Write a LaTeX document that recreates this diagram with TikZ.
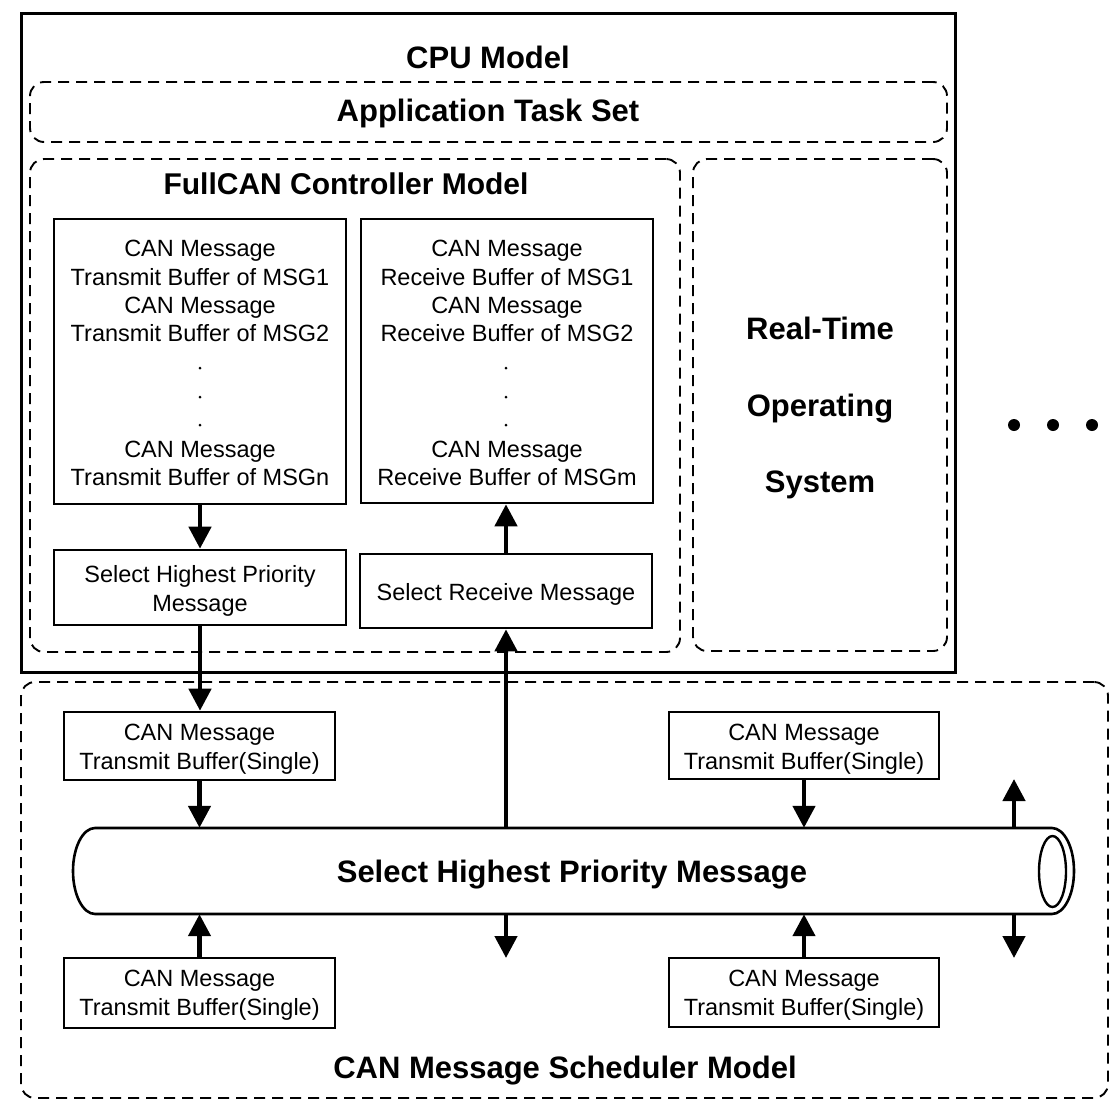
\documentclass[tikz,border=0pt]{standalone}
\usepackage{fontspec}
\setmainfont{Liberation Sans}
\usetikzlibrary{arrows.meta}
\begin{document}
\begin{tikzpicture}[x=1pt,y=-1pt,
  solidbox/.style={draw,line width=2.6pt,inner sep=0pt,minimum width=#1},
  thinbox/.style={draw,line width=2.4pt,inner sep=0pt},
  dashbox/.style={draw,line width=1.9pt,dash pattern=on 11pt off 7pt,rounded corners=14pt,inner sep=0pt},
  small/.style={anchor=base,inner sep=0pt,font=\fontsize{23.5}{28}\selectfont},
  big/.style={anchor=base,inner sep=0pt,font=\fontsize{31}{36}\selectfont\bfseries},
  arr/.style={line width=4.5pt,-{Triangle[length=22pt,width=22pt]}},
  dot/.style={fill,circle,inner sep=0pt,minimum size=#1}
]
\useasboundingbox (0,0) rectangle (1119,1101);

% containers
\node[solidbox=934pt,minimum height=659pt,line width=3pt] (cpu) at (488,342.5) {};
\node[dashbox,minimum width=917pt,minimum height=60pt] (app) at (488.5,112) {};
\node[dashbox,minimum width=650pt,minimum height=493pt] (fc) at (355,405.5) {};
\node[dashbox,minimum width=254pt,minimum height=492pt] (rtos) at (820,405) {};
\node[dashbox,minimum width=1087pt,minimum height=416pt] (sched) at (564.5,890) {};

% titles
\node[big] (t1) at (488,68) {CPU Model};
\node[big] (t2) at (488,121) {Application Task Set};
\node[big,font=\fontsize{30}{36}\selectfont\bfseries] (t3) at (346,194) {FullCAN Controller Model};
\node[big] (t4) at (820,339) {Real-Time};
\node[big] (t5) at (820,416) {Operating};
\node[big] (t6) at (820,492) {System};
\node[big] (t7) at (565,1078) {CAN Message Scheduler Model};

% buffers inside FullCAN
\node[solidbox=292pt,minimum height=285pt] (tb) at (200,361.5) {};
\node[solidbox=292pt,minimum height=284pt] (rb) at (507,361) {};
\node[small] (tb1) at (200,256) {CAN Message};
\node[small] (tb2) at (200,285) {Transmit Buffer of MSG1};
\node[small] (tb3) at (200,313) {CAN Message};
\node[small] (tb4) at (200,341) {Transmit Buffer of MSG2};
\node[small] (tb5) at (200,457) {CAN Message};
\node[small] (tb6) at (200,485) {Transmit Buffer of MSGn};
\node[small] (rb1) at (507,256) {CAN Message};
\node[small] (rb2) at (507,285) {Receive Buffer of MSG1};
\node[small] (rb3) at (507,313) {CAN Message};
\node[small] (rb4) at (507,341) {Receive Buffer of MSG2};
\node[small] (rb5) at (507,457) {CAN Message};
\node[small] (rb6) at (507,485) {Receive Buffer of MSGm};
\foreach \yy [count=\i] in {368,397,425}{
  \node[dot=3pt] (td\i) at (200,\yy) {};
  \node[dot=3pt] (rd\i) at (506,\yy) {};
}

\node[solidbox=292pt,minimum height=75pt] (sh) at (200,587.5) {};
\node[small] (sh1) at (200,582) {Select Highest Priority};
\node[small] (sh2) at (200,611) {Message};
\node[solidbox=292pt,minimum height=74pt] (sr) at (506,591) {};
\node[small] (sr1) at (506,600) {Select Receive Message};

% scheduler buffers
\node[solidbox=271pt,minimum height=68pt] (tl) at (199.5,746) {};
\node[small] (tl1) at (199.5,740) {CAN Message};
\node[small] (tl2) at (199.5,769) {Transmit Buffer(Single)};
\node[solidbox=270pt,minimum height=67pt] (tr) at (804,745.5) {};
\node[small] (tr1) at (804,740) {CAN Message};
\node[small] (tr2) at (804,769) {Transmit Buffer(Single)};
\node[solidbox=271pt,minimum height=70pt] (bl) at (199.5,993) {};
\node[small] (bl1) at (199.5,986) {CAN Message};
\node[small] (bl2) at (199.5,1015) {Transmit Buffer(Single)};
\node[solidbox=270pt,minimum height=69pt] (br) at (804,992.5) {};
\node[small] (br1) at (804,986) {CAN Message};
\node[small] (br2) at (804,1015) {Transmit Buffer(Single)};

% pipe
\node[inner sep=0pt,minimum width=1001pt,minimum height=86pt] (pipe) at (573.5,871) {};
\draw[line width=2.6pt] (95,828) -- (1052,828)
  .. controls (1064,828) and (1074,847) .. (1074,871)
  .. controls (1074,895) and (1064,914) .. (1052,914) -- (95,914)
  .. controls (83,914) and (73,895) .. (73,871)
  .. controls (73,847) and (83,828) .. (95,828) -- cycle;
\draw[line width=2.4pt] (1052.5,871.5) ellipse [x radius=13.5, y radius=35.5];
\node[big] (pt) at (572,882) {Select Highest Priority Message};

% free ends
\coordinate (d1) at (506,958);
\coordinate (u2) at (1014,779);
\coordinate (d2) at (1014,958);

% connectors
\draw[arr] (tb.south) -- (sh.north);
\draw[arr] (sr.north) -- (sr.north |- rb.south);
\draw[arr] (sh.south) -- (sh.south |- tl.north);
\draw[arr] (pipe.north -| sr.south) -- (sr.south);
\draw[arr] (tl.south) -- (tl.south |- pipe.north);
\draw[arr] (tr.south) -- (tr.south |- pipe.north);
\draw[arr] (bl.north) -- (bl.north |- pipe.south);
\draw[arr] (br.north) -- (br.north |- pipe.south);
\draw[arr] (pipe.south -| d1) -- (d1);
\draw[arr] (pipe.north -| u2) -- (u2);
\draw[arr] (pipe.south -| d2) -- (d2);

% ellipsis dots
\node[dot=12pt] (e1) at (1014,425) {};
\node[dot=12pt] (e2) at (1053,425) {};
\node[dot=12pt] (e3) at (1092,425) {};
\end{tikzpicture}
\end{document}
